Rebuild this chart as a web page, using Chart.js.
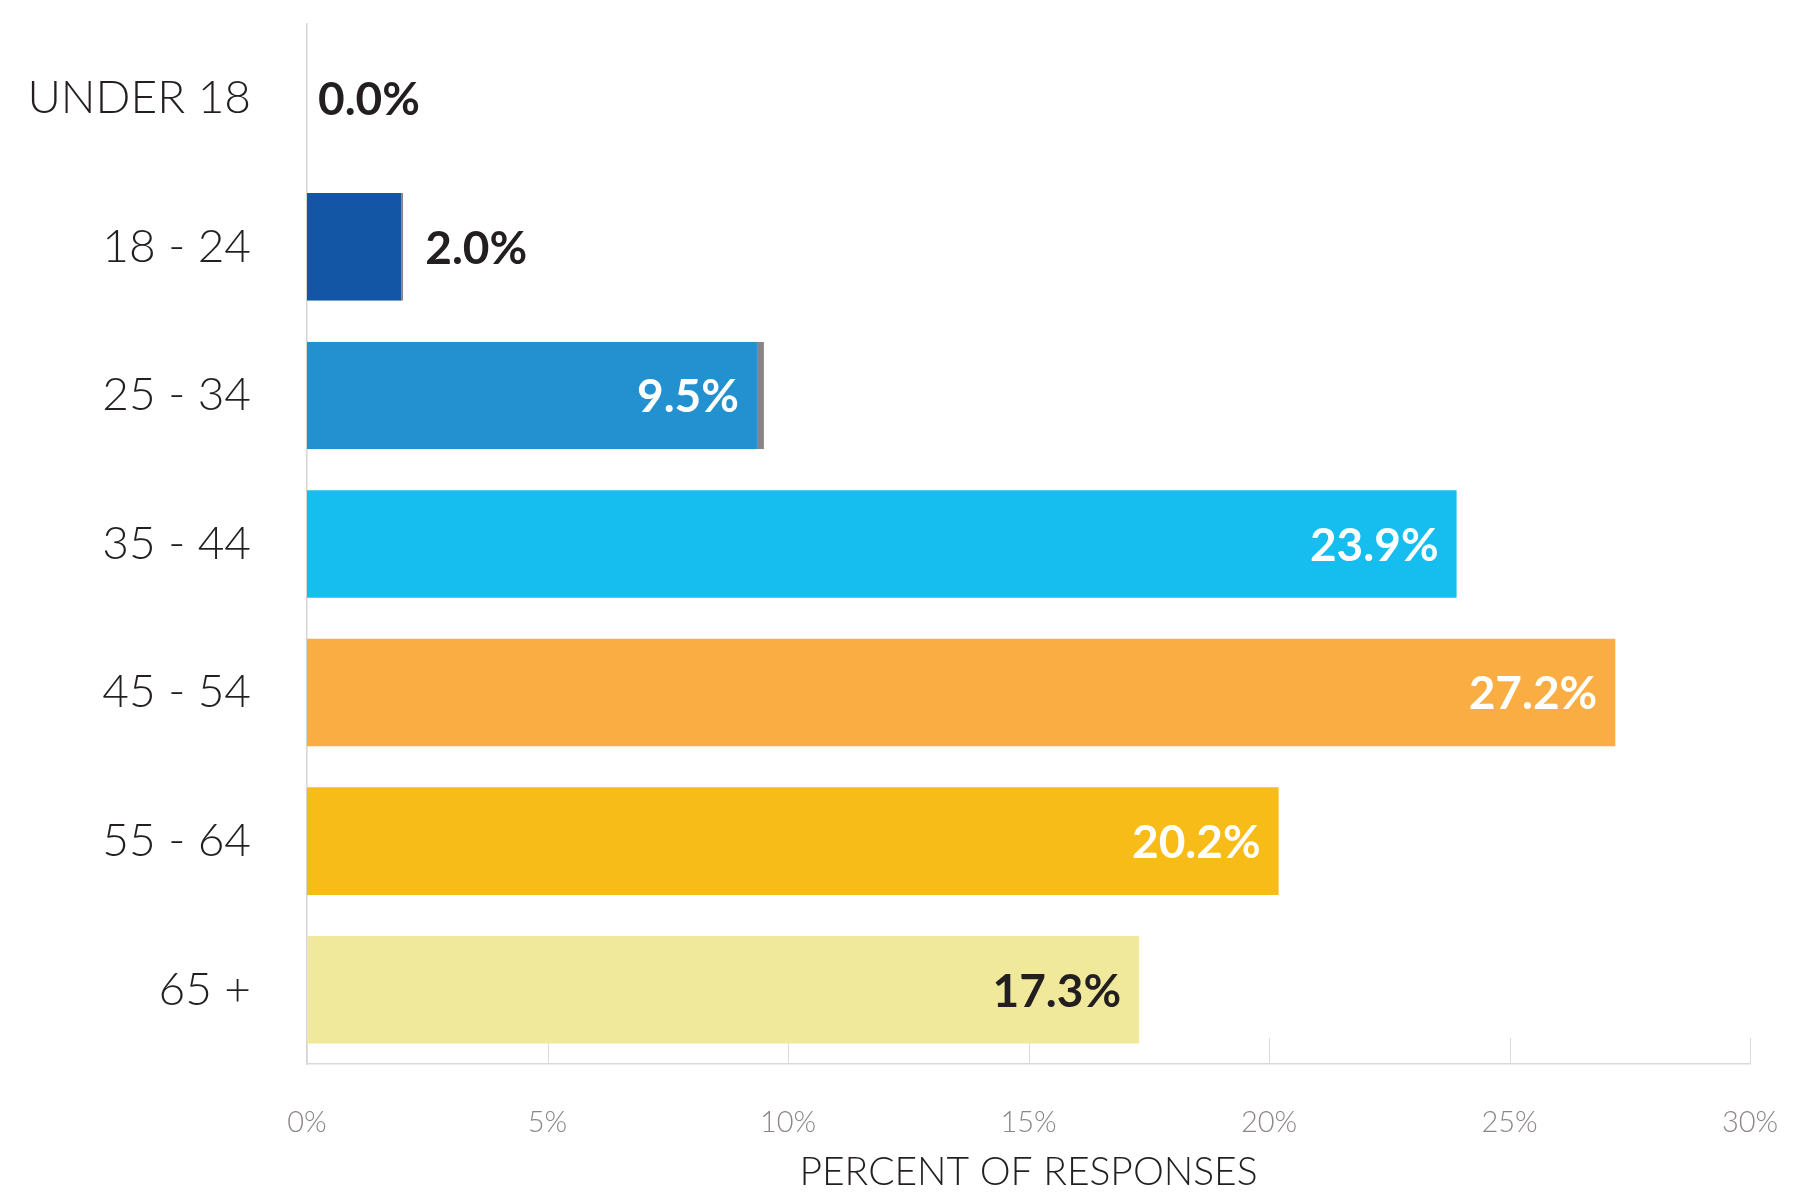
<!DOCTYPE html>
<html>
<head>
<meta charset="utf-8">
<script src="https://cdn.jsdelivr.net/npm/chart.js@4.4.0/dist/chart.umd.min.js"></script>
<style>
  html, body { margin: 0; padding: 0; background: #fff; }
  #wrap { width: 1814px; height: 1192px; }
</style>
</head>
<body>
<div id="wrap"><canvas id="chart-idade" width="1814" height="1192"></canvas></div>
<script>
// Dados
const faixas = ['UNDER 18', '18 - 24', '25 - 34', '35 - 44', '45 - 54', '55 - 64', '65 +'];
const percentuais = [0.0, 2.0, 9.5, 23.9, 27.2, 20.2, 17.3];
const eixoMax = 30;
const eixoPasso = 5;
const tituloEixo = 'PERCENT OF RESPONSES';

// Estilo
const coresBarras = ['#1456a6', '#1456a6', '#2391d0', '#16bdef', '#f9ad42', '#f7bc17', '#f0e99c'];
const bordaDireita = [0, 2, 7, 0, 0, 0, 0];
const corRotulo = ['#231f20', '#231f20', '#ffffff', '#ffffff', '#ffffff', '#ffffff', '#231f20'];
const FONTE = 'Lato';

// ===== MARCAS DO EIXO X (para dentro, atrás das barras) =====
const marcasEixo = {
  id: 'marcasEixo',
  beforeDatasetsDraw(chart) {
    const { ctx, chartArea, scales: { x } } = chart;
    ctx.save();
    ctx.strokeStyle = '#dcdcdc';
    ctx.lineWidth = 1;
    x.ticks.forEach(t => {
      const px = Math.round(x.getPixelForValue(t.value)) + 0.5;
      ctx.beginPath();
      ctx.moveTo(px, chartArea.bottom);
      ctx.lineTo(px, chartArea.bottom - 26);
      ctx.stroke();
    });
    ctx.restore();
  }
};

// ===== RÓTULOS DE VALOR =====
const rotulos = {
  id: 'rotulos',
  afterDatasetsDraw(chart) {
    const { ctx } = chart;
    const meta = chart.getDatasetMeta(0);
    ctx.save();
    ctx.font = '700 46px ' + FONTE;
    ctx.textBaseline = 'middle';
    meta.data.forEach((bar, i) => {
      const txt = percentuais[i].toFixed(1) + '%';
      const w = ctx.measureText(txt).width;
      const larg = bar.x - bar.base;
      ctx.fillStyle = corRotulo[i];
      if (larg > w + 40) {
        ctx.textAlign = 'right';
        ctx.fillText(txt, bar.x - 18 - bordaDireita[i], bar.y + 2);
      } else {
        ctx.textAlign = 'left';
        ctx.fillText(txt, bar.x + (larg > 0 ? 22 : 11), bar.y + 2);
      }
    });
    ctx.restore();
  }
};

function desenhar() {
  new Chart(document.getElementById('chart-idade'), {
    type: 'bar',
    data: {
      labels: faixas,
      datasets: [{
        data: percentuais,
        backgroundColor: coresBarras,
        borderColor: '#8a8486',
        borderWidth: bordaDireita.map(r => ({ top: 0, bottom: 0, left: 0, right: r })),
        borderSkipped: false,
        barPercentage: 0.724,
        categoryPercentage: 1
      }]
    },
    options: {
      indexAxis: 'y',
      responsive: false,
      animation: false,
      devicePixelRatio: 1,
      layout: { padding: { top: 24, right: 64, bottom: 0, left: 0 } },
      plugins: { legend: { display: false }, tooltip: { enabled: false } },
      scales: {
        x: {
          min: 0,
          max: eixoMax,
          grid: { display: false, drawTicks: false },
          border: { display: true, color: '#d9d9d9', width: 1.5 },
          ticks: {
            stepSize: eixoPasso,
            padding: 41,
            color: '#8c8686',
            font: { family: FONTE, weight: '300', size: 29 },
            callback: v => v + '%'
          },
          title: {
            display: true,
            text: tituloEixo,
            color: '#231f20',
            font: { family: FONTE, weight: '300', size: 39, lineHeight: 1 },
            padding: { top: 0, bottom: 0 }
          },
          afterFit: s => { s.height = 128; s.paddingLeft = 0; s.paddingRight = 0; }
        },
        y: {
          grid: { display: false, drawTicks: false },
          border: { display: true, color: '#d6d6d6', width: 1.5 },
          ticks: {
            padding: 56,
            color: '#231f20',
            font: { family: FONTE, weight: '300', size: 46 }
          },
          afterFit: s => { s.width = 307; s.paddingTop = 0; s.paddingBottom = 0; }
        }
      }
    },
    plugins: [marcasEixo, rotulos]
  });
}

// Inicializa
Promise.all([
  document.fonts.load('300 46px ' + FONTE),
  document.fonts.load('700 46px ' + FONTE)
]).then(desenhar, desenhar);
</script>
</body>
</html>
